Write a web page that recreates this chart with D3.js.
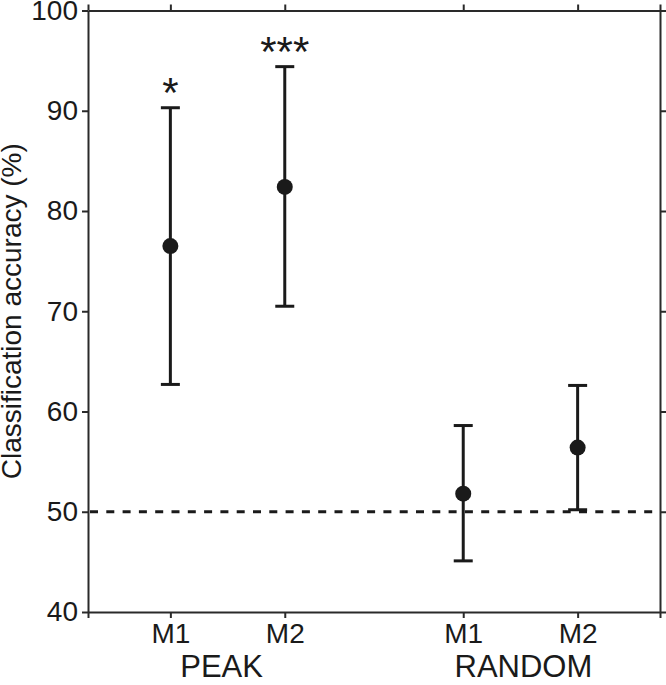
<!DOCTYPE html>
<html>
<head>
<meta charset="utf-8">
<script src="https://cdn.jsdelivr.net/npm/d3@7"></script>
<style>
  body { margin: 0; background: #fff; }
  svg text { font-family: "Liberation Sans", Arial, Helvetica, sans-serif; fill: #1a1a1a; }
</style>
</head>
<body>
<div id="chart"></div>
<script>
// values
const groups = ['PEAK', 'RANDOM'];
const methods = ['M1', 'M2', 'M1', 'M2'];
const groupOf = [0, 0, 1, 1];
const xPos = [0.72, 1.72, 3.28, 4.28];
const means = [76.5, 82.4, 51.8, 56.4];
const upper = [90.3, 94.4, 58.6, 62.6];
const lower = [62.7, 70.5, 45.1, 50.2];
const stars = ['*', '***', '', ''];
const yTicks = [40, 50, 60, 70, 80, 90, 100];
const chance = 50;

const width = 666, height = 685;
const margin = {top: 10.5, right: 6, bottom: 73, left: 88};
const innerW = width - margin.left - margin.right;
const innerH = height - margin.top - margin.bottom;

const svg = d3.select('#chart').append('svg')
    .attr('width', width)
    .attr('height', height);

const g = svg.append('g')
    .attr('transform', `translate(${margin.left},${margin.top})`);

const x = d3.scaleLinear().domain([0, 5]).range([0, innerW]);
const y = d3.scaleLinear().domain([40, 100]).range([innerH, 0]);

const xTickVals = [0].concat(xPos, [5]);
const xLabel = v => {
    const i = xPos.indexOf(v);
    return i < 0 ? '' : methods[i];
};

function styleAxis(sel) {
    sel.select('.domain').attr('stroke', '#2a2a2a').attr('stroke-width', 2);
    sel.selectAll('.tick line').attr('stroke', '#2a2a2a').attr('stroke-width', 2);
    sel.selectAll('text').style('font-size', '28px').attr('fill', '#1a1a1a');
}

// left + right
g.append('g')
    .call(d3.axisLeft(y).tickValues(yTicks).tickSize(6).tickPadding(4).tickSizeOuter(0))
    .call(styleAxis);
g.append('g')
    .attr('transform', `translate(${innerW},0)`)
    .call(d3.axisRight(y).tickValues(yTicks).tickSize(6).tickFormat('').tickSizeOuter(0))
    .call(styleAxis);

// bottom + top
g.append('g')
    .attr('transform', `translate(0,${innerH})`)
    .call(d3.axisBottom(x).tickValues(xTickVals).tickFormat(xLabel).tickSize(6).tickPadding(5).tickSizeOuter(0))
    .call(styleAxis);
g.append('g')
    .call(d3.axisTop(x).tickValues(xTickVals).tickFormat('').tickSize(6).tickSizeOuter(0))
    .call(styleAxis);

// group labels
groups.forEach((name, gi) => {
    const idx = xPos.filter((d, i) => groupOf[i] === gi);
    g.append('text')
        .attr('x', x(d3.mean(idx)) + (gi === 0 ? -6 : 3))
        .attr('y', innerH + 65)
        .attr('text-anchor', 'middle')
        .style('font-size', '31px')
        .text(name);
});

// y title
svg.append('text')
    .attr('transform', `translate(21,${margin.top + innerH / 2}) rotate(-90)`)
    .attr('text-anchor', 'middle')
    .style('font-size', '28px')
    .text('Classification accuracy (%)');

// chance level
g.append('line')
    .attr('x1', 0).attr('x2', innerW)
    .attr('y1', y(chance)).attr('y2', y(chance))
    .attr('stroke', '#1a1a1a')
    .attr('stroke-width', 3)
    .attr('stroke-dasharray', '8,8.3')
    .attr('stroke-dashoffset', -2);

// error bars
const capW = 19;
const pts = d3.range(means.length);
const bars = g.selectAll('.bar').data(pts).join('g').attr('class', 'bar');
bars.append('line')
    .attr('x1', i => x(xPos[i])).attr('x2', i => x(xPos[i]))
    .attr('y1', i => y(upper[i])).attr('y2', i => y(lower[i]))
    .attr('stroke', '#1a1a1a').attr('stroke-width', 3);
bars.append('line')
    .attr('x1', i => x(xPos[i]) - capW / 2).attr('x2', i => x(xPos[i]) + capW / 2)
    .attr('y1', i => y(upper[i])).attr('y2', i => y(upper[i]))
    .attr('stroke', '#1a1a1a').attr('stroke-width', 3);
bars.append('line')
    .attr('x1', i => x(xPos[i]) - capW / 2).attr('x2', i => x(xPos[i]) + capW / 2)
    .attr('y1', i => y(lower[i])).attr('y2', i => y(lower[i]))
    .attr('stroke', '#1a1a1a').attr('stroke-width', 3);
bars.append('circle')
    .attr('cx', i => x(xPos[i]))
    .attr('cy', i => y(means[i]))
    .attr('r', 8)
    .attr('fill', '#1a1a1a');

// significance stars
bars.filter(i => stars[i]).append('text')
    .attr('x', i => x(xPos[i]))
    .attr('y', i => y(upper[i]) - 1)
    .attr('text-anchor', 'middle')
    .style('font-size', '42px')
    .text(i => stars[i]);
</script>
</body>
</html>
